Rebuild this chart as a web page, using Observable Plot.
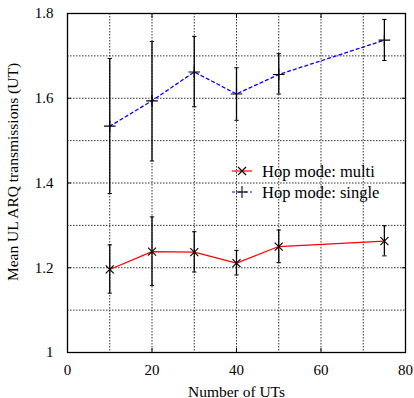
<!DOCTYPE html>
<html>
<head>
<meta charset="utf-8">
<script src="https://cdn.jsdelivr.net/npm/d3@7"></script>
<script src="https://cdn.jsdelivr.net/npm/@observablehq/plot@0.6"></script>
<style>
  body { margin: 0; background: white; }
  #chart { position: relative; width: 414px; height: 398px; }
  #legend { position: absolute; left: 0; top: 0; pointer-events: none; }
</style>
</head>
<body>
<div id="chart"></div>
<script>
// ---- data ----
const numUTs = [10, 20, 30, 40, 50, 75];
const multiMean = [1.196, 1.238, 1.237, 1.211, 1.250, 1.263];
const multiLow  = [1.140, 1.158, 1.190, 1.183, 1.212, 1.228];
const multiHigh = [1.254, 1.320, 1.285, 1.241, 1.289, 1.299];
const singleMean = [1.534, 1.594, 1.662, 1.610, 1.656, 1.737];
const singleLow  = [1.375, 1.452, 1.580, 1.548, 1.610, 1.689];
const singleHigh = [1.694, 1.734, 1.746, 1.672, 1.705, 1.786];
const seriesNames = ["Hop mode: multi", "Hop mode: single"];
const xLabel = "Number of UTs";
const yLabel = "Mean UL ARQ transmissions (UT)";
const xTicks = [0, 20, 40, 60, 80];
const yTicks = [1, 1.2, 1.4, 1.6, 1.8];
const xGrid = [10, 20, 30, 40, 50, 60, 70];
const yGrid = [1.1, 1.2, 1.3, 1.4, 1.5, 1.6, 1.7];

const multi = numUTs.map((x, i) => ({x, y: multiMean[i], lo: multiLow[i], hi: multiHigh[i]}));
const single = numUTs.map((x, i) => ({x, y: singleMean[i], lo: singleLow[i], hi: singleHigh[i]}));
const bars = [...multi, ...single];

// custom stroke symbols
const capSym = {draw(ctx) { ctx.moveTo(-2.2, 0); ctx.lineTo(2.2, 0); }};
const plusSym = {draw(ctx) { ctx.moveTo(-5.8, 0); ctx.lineTo(5.8, 0); ctx.moveTo(0, -5.8); ctx.lineTo(0, 5.8); }};
const timesSym = {draw(ctx) { const r = 4; ctx.moveTo(-r, -r); ctx.lineTo(r, r); ctx.moveTo(-r, r); ctx.lineTo(r, -r); }};

const font = "'Liberation Serif', 'DejaVu Serif', serif";
const gridStyle = {stroke: "#333", strokeOpacity: 1, strokeWidth: 1, strokeDasharray: "1.5,1.5"};

const chart = Plot.plot({
  width: 414,
  height: 398,
  marginLeft: 67,
  marginRight: 9,
  marginTop: 13,
  marginBottom: 46,
  style: {fontFamily: font, fontSize: "15px", background: "white", color: "black"},
  x: {domain: [0, 80]},
  y: {domain: [1, 1.8]},
  marks: [
    Plot.gridX(xGrid, gridStyle),
    Plot.gridY(yGrid, gridStyle),
    Plot.axisX(xTicks, {anchor: "bottom", tickSize: -4, tickPadding: 16, label: null, fontSize: 15}),
    Plot.axisX(xTicks, {anchor: "top", tickSize: -4, tickFormat: () => "", label: null}),
    Plot.axisY(yTicks, {anchor: "left", tickSize: -4, tickPadding: 18, tickFormat: d => String(d), label: null, fontSize: 15}),
    Plot.axisY(yTicks, {anchor: "right", tickSize: -4, tickFormat: () => "", label: null}),
    Plot.text([xLabel], {text: d => d, frameAnchor: "bottom", dy: 44, fontSize: 15.5, lineAnchor: "bottom", fill: "black"}),
    Plot.text([yLabel], {text: d => d, frameAnchor: "left", rotate: -90, dx: -54, dy: -11, fontSize: 15.5, lineAnchor: "middle", textAnchor: "middle", fill: "black"}),
    Plot.line(multi, {x: "x", y: "y", stroke: "#ff0000", strokeWidth: 1.2}),
    Plot.line(single, {x: "x", y: "y", stroke: "#0000ff", strokeWidth: 1.3, strokeDasharray: "3,3"}),
    Plot.ruleX(bars, {x: "x", y1: "lo", y2: "hi", stroke: "black", strokeWidth: 1.3}),
    Plot.dot(bars, {x: "x", y: "lo", symbol: capSym, stroke: "black", strokeWidth: 1, fill: "none"}),
    Plot.dot(bars, {x: "x", y: "hi", symbol: capSym, stroke: "black", strokeWidth: 1, fill: "none"}),
    Plot.dot(multi, {x: "x", y: "y", symbol: timesSym, stroke: "black", strokeWidth: 1.1, fill: "none"}),
    Plot.dot(single, {x: "x", y: "y", symbol: plusSym, stroke: "black", strokeWidth: 1.2, fill: "none"}),
    Plot.frame({stroke: "black", strokeWidth: 1.3})
  ]
});
const container = document.getElementById("chart");
container.appendChild(chart);

// ---- legend overlay ----
const leg = d3.select(container).append("svg")
  .attr("id", "legend").attr("width", 414).attr("height", 398);
const legendRows = [
  {name: seriesNames[0], color: "#ff0000", dash: null, sym: "times", y: 171},
  {name: seriesNames[1], color: "#0000ff", dash: "3,3", sym: "plus", y: 192}
];
legendRows.forEach(r => {
  leg.append("line").attr("x1", 232).attr("x2", 252).attr("y1", r.y).attr("y2", r.y)
    .attr("stroke", r.color).attr("stroke-width", 1.2).attr("stroke-dasharray", r.dash);
  const p = r.sym === "times"
    ? `M${242-4},${r.y-4}L${242+4},${r.y+4}M${242-4},${r.y+4}L${242+4},${r.y-4}`
    : `M${242-6},${r.y}L${242+6},${r.y}M242,${r.y-6}L242,${r.y+6}`;
  leg.append("path").attr("d", p).attr("stroke", "black").attr("stroke-width", 1.1).attr("fill", "none");
  leg.append("text").attr("x", 262).attr("y", r.y).attr("dy", "0.35em")
    .attr("font-family", font).attr("font-size", 16.5).text(r.name);
});
</script>
</body>
</html>
